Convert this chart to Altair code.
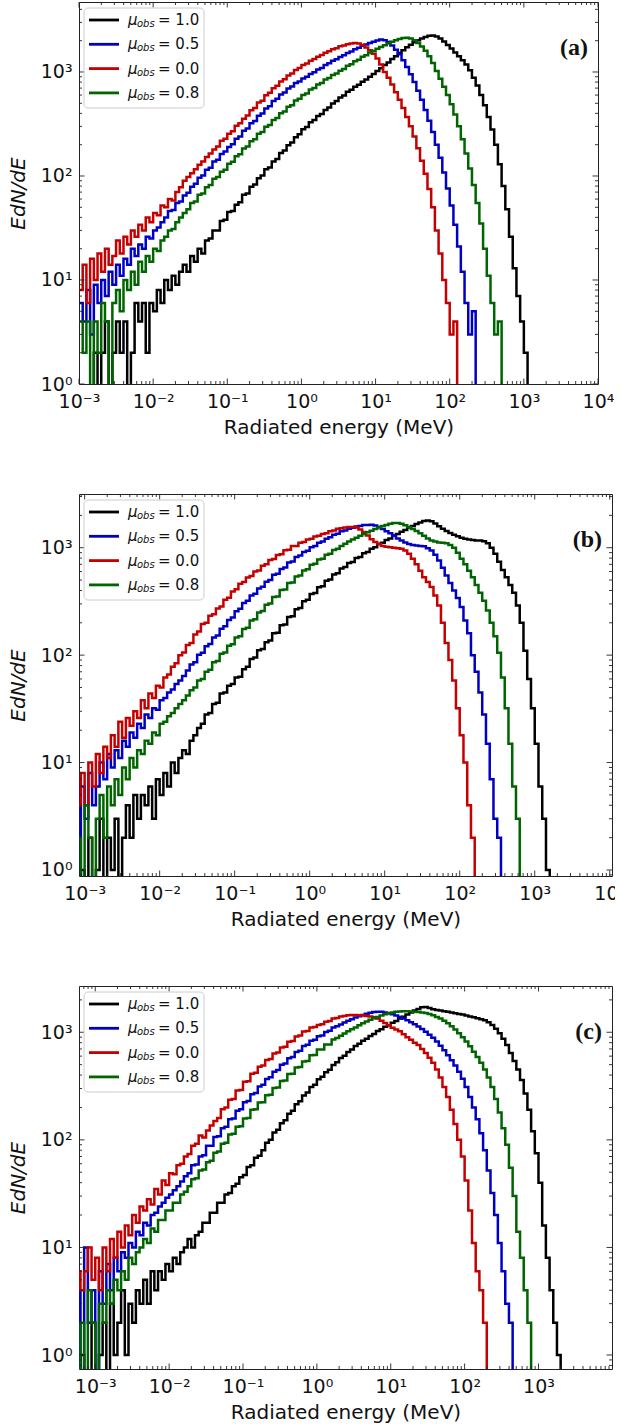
import altair as alt
import pandas as pd

# ---------------- series / legend info ----------------
mu_values = ["1.0", "0.5", "0.0", "0.8"]
line_colors = ["#000000", "#0000c4", "#c40000", "#006400"]
panel_tags = ["(a)", "(b)", "(c)"]
x_title = "Radiated energy (MeV)"
y_title = "EdN/dE"

# histogram binning (log10 of energy, MeV): left edge of first bin, bin width in dex
bin_width_dex = 0.05
a_start = -3.00
b_start = -3.10
c_start = -3.25

# ---------------- panel (a) ----------------
a_mu10 = [0.1, 0.1, 0.1, 0.1, 2, 0.1, 2, 4, 0.1, 2,
          4, 2, 4, 0.1, 2, 6, 4, 6, 2, 6,
          5, 8, 6, 10, 8, 11, 9, 12, 14, 12,
          17, 15, 20, 18, 24, 25, 30, 30, 37, 38,
          45, 46, 53, 56, 66, 68, 79, 83, 95, 101,
          116, 121, 138, 146, 166, 176, 198, 210, 236, 252,
          282, 296, 328, 345, 378, 395, 432, 455, 498, 525,
          568, 595, 645, 675, 722, 755, 805, 845, 902, 955,
          1020, 1085, 1165, 1235, 1335, 1415, 1525, 1615, 1725, 1825,
          1935, 2015, 2105, 2165, 2225, 2240, 2200, 2100, 1960, 1820,
          1680, 1540, 1420, 1300, 1180, 1040, 880, 740, 600, 480,
          370, 280, 200, 130, 80, 48, 26, 13, 7, 4,
          2, 0.1]
a_mu05 = [6, 4, 8, 3, 9, 6, 10, 7, 12, 9,
          14, 11, 16, 14, 20, 17, 22, 20, 26, 25,
          30, 32, 36, 40, 46, 47, 55, 57, 65, 69,
          79, 84, 96, 101, 115, 120, 138, 143, 163, 172,
          190, 202, 228, 240, 272, 286, 322, 338, 380, 398,
          446, 468, 525, 552, 606, 635, 695, 726, 785, 812,
          865, 898, 955, 992, 1055, 1095, 1165, 1215, 1285, 1325,
          1395, 1445, 1525, 1575, 1655, 1715, 1785, 1835, 1905, 1955,
          2010, 2050, 2020, 1940, 1800, 1640, 1480, 1300, 1120, 950,
          800, 660, 540, 430, 340, 265, 200, 150, 108, 76,
          52, 34, 21, 12, 6, 3, 5, 0.1]
a_mu00 = [8, 14, 6, 16, 10, 18, 12, 20, 14, 17,
          24, 18, 26, 22, 30, 26, 34, 30, 40, 36,
          44, 42, 52, 50, 60, 58, 70, 78, 90, 98,
          106, 116, 128, 138, 152, 165, 180, 192, 218, 228,
          255, 270, 305, 322, 356, 382, 428, 450, 508, 530,
          598, 630, 698, 738, 808, 850, 925, 965, 1045, 1090,
          1165, 1210, 1285, 1330, 1405, 1460, 1535, 1580, 1655, 1690,
          1765, 1795, 1845, 1875, 1900, 1880, 1820, 1720, 1620, 1500,
          1350, 1180, 1000, 880, 760, 640, 540, 450, 370, 300,
          240, 185, 140, 105, 75, 50, 30, 18, 10, 6,
          3, 4, 0.1]
a_mu08 = [4, 2, 4, 0.1, 4, 2, 6, 4, 0.1, 6,
          8, 5, 10, 8, 12, 9, 15, 12, 17, 15,
          20, 19, 24, 26, 30, 31, 36, 40, 44, 48,
          55, 57, 66, 68, 78, 82, 94, 98, 110, 115,
          131, 137, 155, 162, 184, 192, 216, 225, 255, 265,
          298, 310, 346, 362, 402, 418, 462, 480, 532, 552,
          602, 622, 678, 700, 758, 785, 848, 875, 938, 965,
          1030, 1070, 1150, 1190, 1270, 1310, 1400, 1450, 1540, 1590,
          1670, 1740, 1810, 1880, 1950, 2020, 2080, 2120, 2130, 2100,
          2020, 1900, 1760, 1600, 1420, 1220, 1020, 860, 720, 600,
          490, 390, 300, 225, 165, 118, 82, 55, 35, 20,
          11, 6, 3, 4, 0.1]

# ---------------- panel (b) ----------------
b_mu10 = [0.1, 1, 0.1, 2, 0.1, 1, 3, 0.1, 2, 1,
          3, 0.1, 2, 4, 2, 5, 3, 5, 4, 6,
          3, 7, 5, 8, 6, 10, 8, 11, 13, 12,
          16, 18, 21, 23, 28, 29, 35, 36, 44, 45,
          52, 54, 62, 63, 74, 78, 92, 95, 111, 114,
          132, 137, 160, 162, 190, 193, 226, 230, 268, 275,
          318, 328, 370, 378, 428, 438, 492, 505, 562, 580,
          640, 660, 720, 738, 800, 820, 890, 910, 980, 1010,
          1080, 1110, 1180, 1220, 1300, 1340, 1410, 1460, 1540, 1590,
          1660, 1720, 1770, 1790, 1760, 1680, 1580, 1500, 1430, 1370,
          1320, 1280, 1240, 1210, 1190, 1180, 1170, 1170, 1150, 1100,
          1000, 880, 740, 620, 530, 450, 380, 290, 200, 110,
          60, 32, 15, 6, 3, 1, 0.1]
b_mu05 = [0.1, 6, 3, 8, 4, 6, 10, 7, 12, 9,
          13, 11, 16, 14, 19, 17, 23, 21, 28, 26,
          32, 31, 38, 40, 45, 48, 54, 58, 64, 72,
          82, 86, 101, 105, 121, 127, 146, 152, 176, 186,
          212, 224, 256, 270, 306, 320, 360, 372, 418, 432,
          483, 500, 560, 572, 635, 655, 730, 745, 820, 845,
          910, 935, 1010, 1040, 1110, 1140, 1210, 1250, 1320, 1350,
          1420, 1450, 1505, 1535, 1575, 1595, 1625, 1630, 1635, 1610,
          1560, 1490, 1420, 1360, 1290, 1220, 1170, 1120, 1080, 1060,
          1050, 1040, 1030, 990, 940, 860, 760, 650, 550, 470,
          400, 340, 280, 210, 160, 100, 70, 45, 28, 15,
          7, 3, 2, 0.1]
b_mu00 = [4, 8, 4, 10, 6, 12, 8, 14, 11, 18,
          14, 24, 17, 26, 22, 30, 26, 38, 32, 44,
          40, 52, 50, 62, 66, 78, 84, 100, 106, 124,
          130, 156, 166, 195, 200, 232, 240, 272, 284, 328,
          342, 392, 410, 462, 480, 528, 545, 600, 615, 680,
          700, 770, 785, 855, 870, 945, 955, 1035, 1040, 1110,
          1130, 1190, 1210, 1270, 1290, 1345, 1365, 1420, 1450, 1500,
          1520, 1545, 1560, 1560, 1540, 1480, 1400, 1300, 1200, 1130,
          1080, 1040, 1020, 1010, 1000, 990, 980, 940, 880, 790,
          700, 610, 530, 480, 430, 360, 290, 200, 130, 90,
          58, 32, 18, 10, 4, 2, 0.1]
b_mu08 = [2, 0.1, 4, 2, 0.1, 3, 5, 2, 6, 4,
          7, 5, 9, 7, 11, 9, 13, 12, 16, 15,
          19, 18, 23, 24, 27, 29, 32, 35, 38, 42,
          47, 50, 58, 60, 70, 73, 86, 88, 103, 106,
          122, 126, 146, 150, 175, 180, 210, 216, 250, 258,
          294, 302, 348, 352, 405, 408, 470, 475, 540, 552,
          615, 630, 695, 710, 775, 790, 860, 880, 950, 980,
          1040, 1090, 1140, 1190, 1240, 1290, 1340, 1390, 1440, 1490,
          1540, 1590, 1630, 1670, 1700, 1700, 1670, 1620, 1560, 1490,
          1430, 1360, 1290, 1220, 1170, 1140, 1120, 1110, 1100, 1060,
          1000, 900, 790, 700, 610, 530, 450, 380, 320, 260,
          200, 150, 105, 62, 32, 15, 6, 3, 0.1]

# ---------------- panel (c) ----------------
c_mu10 = [0.1, 1, 0.1, 0.1, 2, 0.1, 1, 2, 0.1, 3,
          1, 2, 4, 1, 3, 2, 4, 3, 5, 3,
          6, 4, 6, 5, 7, 6, 8, 7, 9, 10,
          12, 10, 13, 14, 17, 17, 21, 21, 26, 26,
          31, 32, 37, 39, 45, 47, 56, 58, 68, 71,
          80, 94, 100, 117, 124, 143, 152, 175, 186, 214,
          228, 258, 276, 310, 325, 366, 385, 426, 448, 495,
          525, 575, 605, 655, 690, 745, 780, 835, 870, 925,
          965, 1025, 1065, 1125, 1165, 1225, 1275, 1345, 1395, 1465,
          1525, 1595, 1645, 1710, 1720, 1680, 1640, 1610, 1590, 1570,
          1550, 1530, 1500, 1480, 1460, 1430, 1400, 1380, 1350, 1320,
          1290, 1240, 1170, 1080, 980, 870, 760, 640, 540, 450,
          360, 270, 190, 120, 75, 40, 16, 8, 4, 2,
          1, 0.1]
c_mu05 = [4, 0.1, 10, 2, 4, 0.1, 6, 3, 7, 4,
          8, 6, 9, 8, 11, 10, 14, 13, 17, 16,
          20, 21, 24, 26, 29, 31, 34, 37, 41, 46,
          49, 58, 59, 70, 72, 88, 88, 106, 108, 128,
          132, 155, 158, 186, 192, 224, 230, 265, 272, 313,
          326, 368, 382, 430, 445, 498, 512, 572, 590, 655,
          675, 745, 765, 835, 850, 920, 935, 1005, 1035, 1110,
          1140, 1180, 1230, 1280, 1320, 1370, 1410, 1450, 1490, 1520,
          1540, 1550, 1550, 1530, 1500, 1470, 1430, 1390, 1340, 1290,
          1240, 1190, 1130, 1070, 1010, 950, 890, 820, 750, 680,
          610, 550, 490, 430, 370, 310, 250, 200, 155, 115,
          80, 52, 32, 20, 11, 6, 3, 2, 0.1]
c_mu00 = [6, 4, 6, 10, 5, 8, 4, 10, 6, 12,
          8, 14, 10, 16, 13, 20, 17, 24, 22, 28,
          25, 35, 31, 42, 38, 49, 48, 58, 60, 70,
          74, 88, 92, 110, 105, 122, 136, 150, 160, 192,
          200, 236, 240, 288, 290, 346, 350, 412, 420, 478,
          490, 552, 565, 635, 650, 720, 735, 815, 830, 915,
          935, 1015, 1030, 1110, 1120, 1170, 1190, 1250, 1270, 1340,
          1360, 1400, 1420, 1440, 1450, 1450, 1440, 1430, 1420, 1400,
          1380, 1340, 1280, 1220, 1160, 1100, 1060, 1020, 960, 900,
          850, 800, 760, 700, 640, 580, 520, 450, 380, 310,
          250, 190, 140, 100, 70, 42, 22, 11, 6, 4,
          2, 0.1]
c_mu08 = [0.1, 2, 0.1, 4, 2, 0.1, 3, 2, 4, 3,
          5, 4, 6, 5, 8, 7, 9, 10, 12, 11,
          15, 14, 18, 18, 22, 22, 26, 26, 31, 33,
          37, 43, 44, 52, 53, 62, 64, 76, 78, 92,
          94, 112, 114, 132, 134, 158, 160, 190, 192, 222,
          224, 260, 262, 304, 306, 352, 356, 410, 412, 470,
          475, 536, 540, 612, 615, 690, 690, 770, 770, 855,
          885, 930, 975, 1020, 1065, 1110, 1160, 1210, 1260, 1310,
          1350, 1390, 1430, 1470, 1500, 1530, 1550, 1560, 1565, 1565,
          1560, 1555, 1545, 1530, 1510, 1480, 1440, 1390, 1340, 1280,
          1210, 1140, 1060, 980, 900, 820, 740, 660, 590, 520,
          450, 380, 310, 240, 180, 128, 90, 55, 30, 14,
          8, 4, 2, 0.1]

# axis extents per panel (log10 units) and sizes
a_xdom, a_ydom = (-3.0, 4.0), (0.0, 3.673)
b_xdom, b_ydom = (-3.075, 4.03), (-0.056, 3.50)
c_xdom, c_ydom = (-3.22, 3.995), (-0.13, 3.43)

LABEL_EXPR = ("'10' + ['\u207b\u00b3','\u207b\u00b2','\u207b\u00b9','\u2070','\u00b9','\u00b2','\u00b3','\u2074']"
              "[round(log(datum.value)/LN10) + 3]")


def log_ticks(lo, hi):
    major, minor = [], []
    for k in range(-5, 6):
        for m in range(1, 10):
            v = m * 10.0 ** k
            if 10 ** lo * 0.9999 <= v <= 10 ** hi * 1.0001:
                (major if m == 1 else minor).append(v)
    return major, minor


def build_panel(tag, start, series, xdom, ydom, W, H):
    xscale = alt.Scale(type="log", domain=[10 ** xdom[0], 10 ** xdom[1]], nice=False)
    yscale = alt.Scale(type="log", domain=[10 ** ydom[0], 10 ** ydom[1]], nice=False)
    xmaj, xmin = log_ticks(*xdom)
    ymaj, ymin = log_ticks(*ydom)
    xaxis = alt.Axis(values=xmaj, labelExpr=LABEL_EXPR, title=x_title, labelPadding=8,
                     titlePadding=6, labelFlush=False)
    yaxis = alt.Axis(values=ymaj, labelExpr=LABEL_EXPR, title=y_title, labelPadding=7,
                     titlePadding=12, titleFontStyle="italic", labelFlush=False)
    layers = []
    # histogram step lines
    for vals, col in zip(series, line_colors):
        df = pd.DataFrame({"E": [10 ** (start + bin_width_dex * i) for i in range(len(vals))],
                           "N": vals})
        layers.append(alt.Chart(df).mark_line(interpolate="step-after", clip=True, color=col,
                                              strokeWidth=2.5).encode(
            x=alt.X("E:Q", scale=xscale, axis=xaxis),
            y=alt.Y("N:Q", scale=yscale, axis=yaxis)))
    # inward ticks on all four sides
    for vals, ln in ((xmaj, 5.5), (xmin, 3)):
        d = pd.DataFrame({"E": vals})
        for y0, y1 in ((H, H - ln), (0, ln)):
            layers.append(alt.Chart(d).mark_rule(color="#222", strokeWidth=0.9).encode(
                x=alt.X("E:Q", scale=xscale, axis=xaxis), y=alt.value(y0), y2=alt.value(y1)))
    for vals, ln in ((ymaj, 5.5), (ymin, 3)):
        d = pd.DataFrame({"N": vals})
        for x0, x1 in ((0, ln), (W, W - ln)):
            layers.append(alt.Chart(d).mark_rule(color="#222", strokeWidth=0.9).encode(
                y=alt.Y("N:Q", scale=yscale, axis=yaxis), x=alt.value(x0), x2=alt.value(x1)))
    # legend box
    one = pd.DataFrame({"k": [0]})
    layers.append(alt.Chart(one).mark_rect(fill="white", fillOpacity=0.85, stroke="#cccccc",
                                           strokeWidth=1, cornerRadius=4).encode(
        x=alt.value(5), x2=alt.value(125), y=alt.value(6), y2=alt.value(106)))
    for i, (mu, col) in enumerate(zip(mu_values, line_colors)):
        ry = 18 + 24.3 * i
        layers.append(alt.Chart(one).mark_rule(color=col, strokeWidth=2.8).encode(
            x=alt.value(10), x2=alt.value(40), y=alt.value(ry)))
        layers.append(alt.Chart(one).mark_text(text="\u03bc", font="DejaVu Sans", fontStyle="italic",
                                               fontSize=15, align="left", baseline="middle",
                                               color="#111").encode(x=alt.value(49), y=alt.value(ry)))
        layers.append(alt.Chart(one).mark_text(text="obs", font="DejaVu Sans", fontStyle="italic",
                                               fontSize=10, align="left", baseline="middle",
                                               color="#111").encode(x=alt.value(58), y=alt.value(ry + 4)))
        layers.append(alt.Chart(one).mark_text(text="= " + mu, font="DejaVu Sans", fontSize=15,
                                               align="left", baseline="middle",
                                               color="#111").encode(x=alt.value(79), y=alt.value(ry)))
    # panel tag
    layers.append(alt.Chart(one).mark_text(text=tag, font="Liberation Serif", fontSize=24,
                                           fontWeight="bold", align="right", baseline="middle",
                                           color="#111").encode(x=alt.value(W - 10), y=alt.value(46)))
    return alt.layer(*layers).properties(width=W, height=H)


pa = build_panel(panel_tags[0], a_start, [a_mu10, a_mu05, a_mu00, a_mu08], a_xdom, a_ydom, 519, 382)
pb = build_panel(panel_tags[1], b_start, [b_mu10, b_mu05, b_mu00, b_mu08], b_xdom, b_ydom, 533, 382)
pc = build_panel(panel_tags[2], c_start, [c_mu10, c_mu05, c_mu00, c_mu08], c_xdom, c_ydom, 533, 383)

chart = alt.vconcat(pa, pb, pc, spacing=55).properties(
    padding={"left": 7, "top": 1, "right": -12, "bottom": 0}
).configure_view(stroke="#222", strokeWidth=1).configure_axis(
    domain=False, ticks=False, grid=False,
    labelFont="DejaVu Sans", labelFontSize=19, labelColor="#111",
    titleFont="DejaVu Sans", titleFontSize=20, titleFontWeight="normal", titleColor="#111"
)

chart.save("out.html", embed_options={"renderer": "svg", "actions": False})
